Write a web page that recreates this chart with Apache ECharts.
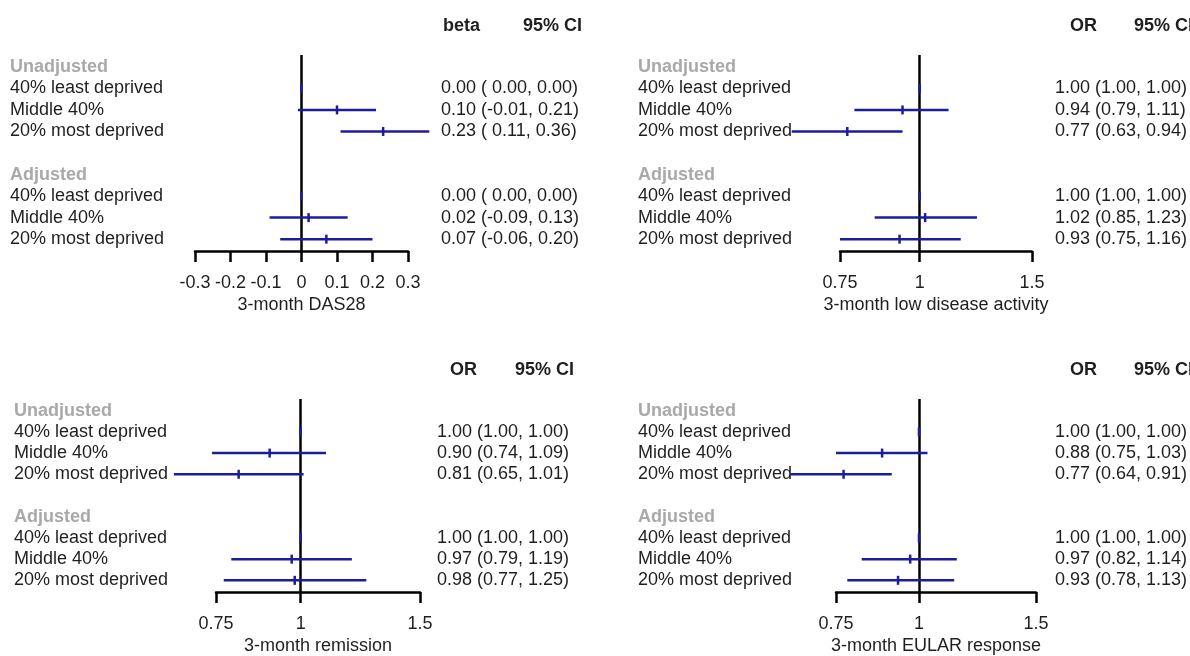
<!DOCTYPE html>
<html>
<head>
<meta charset="utf-8">
<script src="https://cdn.jsdelivr.net/npm/echarts@6/dist/echarts.min.js"></script>
<style>html,body{margin:0;padding:0;background:#fff}#c{width:1190px;height:656px}</style>
</head>
<body>
<div id="c"></div>
<script>
// ---- data ----
const rowLabels = ['Unadjusted', '40% least deprived', 'Middle 40%', '20% most deprived', '',
                   'Adjusted', '40% least deprived', 'Middle 40%', '20% most deprived'];
const headerRows = [0, 5];
const dataRows = [1, 2, 3, 6, 7, 8];

const das28Est = [0.00, 0.10, 0.23, 0.00, 0.02, 0.07];
const das28Lo  = [0.00, -0.01, 0.11, 0.00, -0.09, -0.06];
const das28Hi  = [0.00, 0.21, 0.36, 0.00, 0.13, 0.20];

const ldaEst = [1.00, 0.94, 0.77, 1.00, 1.02, 0.93];
const ldaLo  = [1.00, 0.79, 0.63, 1.00, 0.85, 0.75];
const ldaHi  = [1.00, 1.11, 0.94, 1.00, 1.23, 1.16];

const remEst = [1.00, 0.90, 0.81, 1.00, 0.97, 0.98];
const remLo  = [1.00, 0.74, 0.65, 1.00, 0.79, 0.77];
const remHi  = [1.00, 1.09, 1.01, 1.00, 1.19, 1.25];

const eularEst = [1.00, 0.88, 0.77, 1.00, 0.97, 0.93];
const eularLo  = [1.00, 0.75, 0.64, 1.00, 0.82, 0.78];
const eularHi  = [1.00, 1.03, 0.91, 1.00, 1.14, 1.13];

const das28Ticks = [-0.3, -0.2, -0.1, 0, 0.1, 0.2, 0.3];
const orTicks = [0.75, 1, 1.5];

const panelTitles = ['3-month DAS28', '3-month low disease activity', '3-month remission', '3-month EULAR response'];
const statNames = ['beta', 'OR', 'OR', 'OR'];
const ciName = '95% CI';

// ---- layout / style ----
const FONT = "'Liberation Sans', Arial, sans-serif";
const TXT = '#1f1f1f';
const BLUE = '#1c1c9e';
const FS = 18;

const panels = [
  { est: das28Est, lo: das28Lo, hi: das28Hi, ticks: das28Ticks, log: false, ref: 0,
    grid: { left: 195, top: 55, width: 213, height: 196 }, labelX: 10, textX: 441, statX: 438, ciX: 518, headTop: 12 },
  { est: ldaEst, lo: ldaLo, hi: ldaHi, ticks: orTicks, log: true, ref: 1,
    grid: { left: 840, top: 55, width: 194, height: 196 }, labelX: 638, textX: 1057, statX: 1065, ciX: 1129, headTop: 12 },
  { est: remEst, lo: remLo, hi: remHi, ticks: orTicks, log: true, ref: 1,
    grid: { left: 216, top: 399, width: 204, height: 196 }, labelX: 14, textX: 437, statX: 445, ciX: 510, headTop: 356 },
  { est: eularEst, lo: eularLo, hi: eularHi, ticks: orTicks, log: true, ref: 1,
    grid: { left: 836, top: 399, width: 202, height: 196 }, labelX: 638, textX: 1057, statX: 1065, ciX: 1129, headTop: 356 }
];

const Y_MIN = -0.55, Y_MAX = 8.55;

function fmtNum(v) { return v.toFixed(2); }
function ciText(p, k) {
  const hasNeg = p.lo.some(v => v < 0);
  const loS = (hasNeg && p.lo[k] >= 0 ? ' ' : '') + fmtNum(p.lo[k]);
  return fmtNum(p.est[k]) + ' (' + loS + ', ' + fmtNum(p.hi[k]) + ')';
}

const option = {
  backgroundColor: '#fff',
  animation: false,
  textStyle: { fontFamily: FONT },
  title: [],
  grid: [],
  xAxis: [],
  yAxis: [],
  series: []
};

panels.forEach((p, i) => {
  option.grid.push(Object.assign({ containLabel: false }, p.grid));

  option.title.push({
    text: statNames[i], left: p.statX, top: p.headTop,
    textStyle: { fontFamily: FONT, fontSize: FS, fontWeight: 'bold', color: TXT }
  });
  option.title.push({
    text: ciName, left: p.ciX, top: p.headTop,
    textStyle: { fontFamily: FONT, fontSize: FS, fontWeight: 'bold', color: TXT }
  });

  const xa = {
    gridIndex: i,
    type: p.log ? 'log' : 'value',
    min: p.ticks[0],
    max: p.ticks[p.ticks.length - 1],
    name: panelTitles[i],
    nameLocation: 'middle',
    nameGap: 45,
    nameTextStyle: { fontFamily: FONT, fontSize: FS, color: TXT },
    splitLine: { show: false },
    axisLine: { show: true, onZero: false, lineStyle: { color: '#000', width: 2.5 } },
    axisTick: { show: true, length: 11, lineStyle: { color: '#000', width: 2.5 } },
    axisLabel: {
      fontFamily: FONT, fontSize: FS, color: TXT, margin: 23,
      formatter: v => String(parseFloat(Number(v).toFixed(2)))
    }
  };
  if (p.log) {
    xa.logBase = Math.E;
    xa.axisTick.customValues = p.ticks;
    xa.axisLabel.customValues = p.ticks;
  } else {
    xa.interval = 0.1;
  }
  option.xAxis.push(xa);

  const gl = p.grid.left, gr = p.grid.left + p.grid.width;
  // left: row labels
  option.yAxis.push({
    gridIndex: i, type: 'value', inverse: true, min: Y_MIN, max: Y_MAX, position: 'left',
    splitLine: { show: false }, axisLine: { show: false }, axisTick: { show: false },
    axisLabel: {
      customValues: [0, 1, 2, 3, 5, 6, 7, 8],
      align: 'left', margin: gl - p.labelX,
      fontFamily: FONT, fontSize: FS, color: TXT,
      formatter: v => {
        const k = Math.round(v);
        return headerRows.indexOf(k) >= 0 ? '{h|' + rowLabels[k] + '}' : '{n|' + rowLabels[k] + '}';
      },
      rich: {
        h: { fontFamily: FONT, fontSize: FS, fontWeight: 'bold', color: '#a9a9a9' },
        n: { fontFamily: FONT, fontSize: FS, color: TXT }
      }
    }
  });
  // right: estimate text
  option.yAxis.push({
    gridIndex: i, type: 'value', inverse: true, min: Y_MIN, max: Y_MAX, position: 'right',
    splitLine: { show: false }, axisLine: { show: false }, axisTick: { show: false },
    axisLabel: {
      customValues: dataRows,
      align: 'left', margin: p.textX - gr,
      fontFamily: FONT, fontSize: FS, color: TXT,
      formatter: v => ciText(p, dataRows.indexOf(Math.round(v)))
    }
  });

  const data = dataRows.map((r, k) => [r, p.est[k], p.lo[k], p.hi[k]]);
  option.series.push({
    type: 'custom',
    xAxisIndex: i,
    yAxisIndex: 2 * i,
    clip: false,
    z: 6,
    encode: { x: [1, 2, 3], y: 0 },
    data: data,
    renderItem: (params, api) => {
      const r = api.value(0);
      const pe = api.coord([api.value(1), r]);
      const pl = api.coord([api.value(2), r]);
      const ph = api.coord([api.value(3), r]);
      return {
        type: 'group',
        children: [
          { type: 'line', shape: { x1: pl[0], y1: pl[1], x2: ph[0], y2: ph[1] },
            style: { stroke: BLUE, lineWidth: 2.5 } },
          { type: 'line', shape: { x1: pe[0], y1: pe[1] - 4.5, x2: pe[0], y2: pe[1] + 4.5 },
            style: { stroke: BLUE, lineWidth: 2.5 } }
        ]
      };
    },
    markLine: {
      silent: true, symbol: 'none', z: 3, label: { show: false },
      lineStyle: { color: '#000', width: 2.5, type: 'solid' },
      data: [{ xAxis: p.ref }]
    }
  });
});

const chart = echarts.init(document.getElementById('c'), null, { renderer: 'canvas' });
chart.setOption(option);
</script>
</body>
</html>
